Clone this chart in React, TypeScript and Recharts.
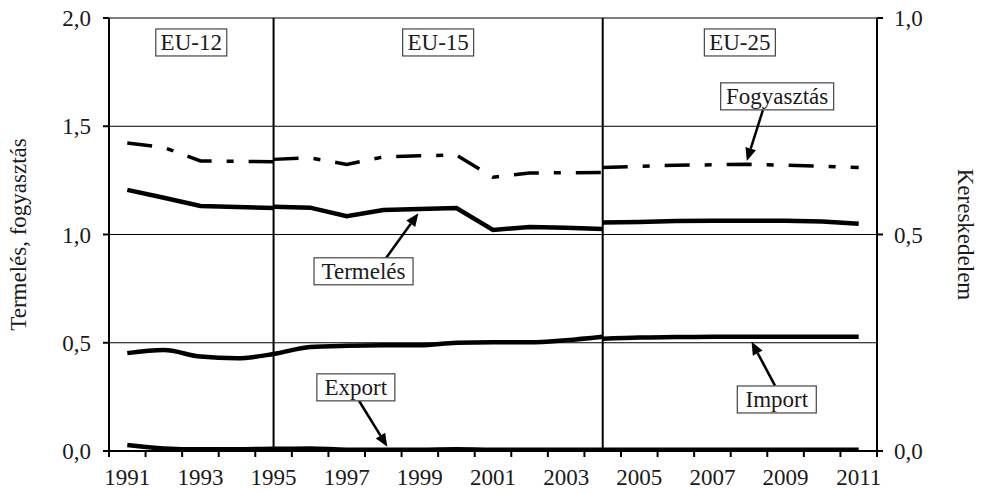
import React from 'react';
import { LineChart, Line, XAxis, YAxis, CartesianGrid, ReferenceLine, ReferenceDot } from 'recharts';

const years = [1991, 1992, 1993, 1994, 1995, 1996, 1997, 1998, 1999, 2000, 2001, 2002, 2003, 2004, 2005, 2006, 2007, 2008, 2009, 2010, 2011];

// Fogyasztás (left axis), three periods
const fogyasztasEU12 = [1.423, 1.402, 1.340, 1.338, 1.336, null, null, null, null, null, null, null, null, null, null, null, null, null, null, null, null];
const fogyasztasEU15 = [null, null, null, null, 1.347, 1.354, 1.324, 1.358, 1.364, 1.367, 1.265, 1.284, 1.285, 1.286, null, null, null, null, null, null, null];
const fogyasztasEU25 = [null, null, null, null, null, null, null, null, null, null, null, null, null, 1.309, 1.315, 1.320, 1.322, 1.324, 1.320, 1.315, 1.309];

// Termelés (left axis), three periods
const termelesEU12 = [1.206, 1.170, 1.132, 1.127, 1.122, null, null, null, null, null, null, null, null, null, null, null, null, null, null, null, null];
const termelesEU15 = [null, null, null, null, 1.128, 1.124, 1.085, 1.113, 1.118, 1.122, 1.021, 1.035, 1.031, 1.025, null, null, null, null, null, null, null];
const termelesEU25 = [null, null, null, null, null, null, null, null, null, null, null, null, null, 1.055, 1.058, 1.062, 1.064, 1.064, 1.063, 1.060, 1.050];

// Kereskedelem (right axis)
const importA = [0.226, 0.233, 0.218, 0.214, 0.224, 0.240, 0.243, 0.244, 0.244, 0.250, 0.251, 0.251, 0.256, 0.264, null, null, null, null, null, null, null];
const importB = [null, null, null, null, null, null, null, null, null, null, null, null, null, 0.259, 0.262, 0.263, 0.264, 0.264, 0.264, 0.264, 0.264];
const exportV = [0.014, 0.006, 0.004, 0.004, 0.005, 0.006, 0.003, 0.003, 0.003, 0.004, 0.003, 0.003, 0.003, 0.003, 0.003, 0.003, 0.003, 0.003, 0.003, 0.003, 0.003];

const periodBreaks = [1995, 2004];
const leftTicks = [0, 0.5, 1, 1.5, 2];
const rightTicks = [0, 0.5, 1];
const xBoundaries = [1990.5, 1991.5, 1992.5, 1993.5, 1994.5, 1995.5, 1996.5, 1997.5, 1998.5, 1999.5, 2000.5, 2001.5, 2002.5, 2003.5, 2004.5, 2005.5, 2006.5, 2007.5, 2008.5, 2009.5, 2010.5, 2011.5];

const boxes = [
  { text: 'EU-12', x: 1992.75, y: 1.887, w: 71 },
  { text: 'EU-15', x: 1999.5, y: 1.887, w: 71 },
  { text: 'EU-25', x: 2007.75, y: 1.887, w: 71 },
  { text: 'Fogyasztás', x: 2008.77, y: 1.638, w: 113 },
  { text: 'Termelés', x: 1997.46, y: 0.830, w: 99 },
  { text: 'Export', x: 1997.25, y: 0.294, w: 78 },
  { text: 'Import', x: 2008.76, y: 0.238, w: 79 },
];

const arrows = [
  { from: [2008.38, 1.575], to: [2007.94, 1.339] },
  { from: [1998.07, 0.890], to: [1998.96, 1.098] },
  { from: [1997.34, 0.231], to: [1998.11, 0.020] },
  { from: [2008.71, 0.302], to: [2008.07, 0.505] },
];

const data = years.map((year, i) => ({
  year,
  fog12: fogyasztasEU12[i],
  fog15: fogyasztasEU15[i],
  fog25: fogyasztasEU25[i],
  ter12: termelesEU12[i],
  ter15: termelesEU15[i],
  ter25: termelesEU25[i],
  impA: importA[i],
  impB: importB[i],
  exp: exportV[i],
}));

const FONT = "'Liberation Serif', 'Times New Roman', serif";
const TEXT = '#1a1a1a';
const FS = 23;
const W = 982;
const H = 492;
const LEFT_W = 109;
const RIGHT_W = 105;
const TOP = 18;
const X_H = 41;
const BAND = (W - LEFT_W - RIGHT_W) / years.length;

const fmt = (v: number) => v.toFixed(1).replace('.', ',');

const XTick = (props: any) => {
  const { x, y, payload } = props;
  const yr = Math.round(payload.value + 0.5);
  if (yr > 2011 || yr % 2 === 0) return <g />;
  return (
    <text x={x + BAND / 2} y={y + 26} textAnchor="middle" fontSize={FS} fontFamily={FONT} fill={TEXT}>
      {yr}
    </text>
  );
};

const Box = (w: number, text: string) => (p: any) => {
  const h = 27;
  return (
    <g>
      <rect x={p.cx - w / 2} y={p.cy - h / 2} width={w} height={h} fill="#fff" stroke="#444" strokeWidth={1.2} />
      <text x={p.cx} y={p.cy + 8} textAnchor="middle" fontSize={FS} fontFamily={FONT} fill={TEXT}>
        {text}
      </text>
    </g>
  );
};

const Arrow = (p: any) => {
  const { x1, y1, x2, y2 } = p;
  const dx = x2 - x1;
  const dy = y2 - y1;
  const len = Math.sqrt(dx * dx + dy * dy) || 1;
  const ux = dx / len;
  const uy = dy / len;
  const hl = 13;
  const hw = 5.5;
  const bx = x2 - ux * hl;
  const by = y2 - uy * hl;
  const pts = `${x2},${y2} ${bx - uy * hw},${by + ux * hw} ${bx + uy * hw},${by - ux * hw}`;
  return (
    <g>
      <line x1={x1} y1={y1} x2={bx} y2={by} stroke="#000" strokeWidth={2.5} />
      <polygon points={pts} fill="#000" />
    </g>
  );
};

export default function App() {
  return (
    <div style={{ position: 'absolute', left: 0, top: 0, background: '#fff' }}>
      <LineChart width={W} height={H} data={data} margin={{ top: TOP, right: 0, bottom: 0, left: 0 }}>
        <CartesianGrid vertical={false} stroke="#000" strokeWidth={1} />
        <XAxis
          dataKey="year"
          type="number"
          domain={[1990.5, 2011.5]}
          ticks={xBoundaries}
          interval={0}
          tick={<XTick />}
          tickSize={6}
          tickLine={{ stroke: '#000', strokeWidth: 2 }}
          axisLine={{ stroke: '#000', strokeWidth: 2 }}
          height={X_H}
          allowDecimals
        />
        <YAxis
          domain={[0, 2]}
          ticks={leftTicks}
          tickFormatter={fmt}
          width={LEFT_W}
          tickSize={6}
          tickMargin={12}
          interval={0}
          tick={{ fontSize: FS, fontFamily: FONT, fill: TEXT }}
          tickLine={{ stroke: '#000', strokeWidth: 2 }}
          axisLine={{ stroke: '#000', strokeWidth: 2 }}
          label={{
            content: (lp: any) => {
              const vb = lp.viewBox || { y: TOP, height: H - TOP - X_H };
              const cy = vb.y + vb.height / 2;
              return (
                <text x={26} y={cy} transform={`rotate(-90 26 ${cy})`} textAnchor="middle" fontSize={FS} fontFamily={FONT} fill={TEXT}>
                  Termelés, fogyasztás
                </text>
              );
            },
          }}
        />
        <YAxis
          yAxisId="right"
          orientation="right"
          domain={[0, 1]}
          ticks={rightTicks}
          tickFormatter={fmt}
          width={RIGHT_W}
          tickSize={6}
          tickMargin={11}
          interval={0}
          tick={{ fontSize: FS, fontFamily: FONT, fill: TEXT }}
          tickLine={{ stroke: '#000', strokeWidth: 2 }}
          axisLine={{ stroke: '#000', strokeWidth: 2 }}
          label={{
            content: (lp: any) => {
              const vb = lp.viewBox || { y: TOP, height: H - TOP - X_H };
              const cy = vb.y + vb.height / 2;
              return (
                <text x={958} y={cy} transform={`rotate(90 958 ${cy})`} textAnchor="middle" fontSize={FS} fontFamily={FONT} fill={TEXT}>
                  Kereskedelem
                </text>
              );
            },
          }}
        />
        {periodBreaks.map((b) => (
          <ReferenceLine key={b} x={b} stroke="#000" strokeWidth={2} />
        ))}
        <Line dataKey="fog12" type="linear" stroke="#000" strokeWidth={3.5} strokeDasharray="25 15 7 15" dot={false} isAnimationActive={false} />
        <Line dataKey="fog15" type="linear" stroke="#000" strokeWidth={3.5} strokeDasharray="25 15 7 15" dot={false} isAnimationActive={false} />
        <Line dataKey="fog25" type="linear" stroke="#000" strokeWidth={3.5} strokeDasharray="25 15 7 15" dot={false} isAnimationActive={false} />
        <Line dataKey="ter12" type="linear" stroke="#000" strokeWidth={4.5} dot={false} isAnimationActive={false} />
        <Line dataKey="ter15" type="linear" stroke="#000" strokeWidth={4.5} dot={false} isAnimationActive={false} />
        <Line dataKey="ter25" type="linear" stroke="#000" strokeWidth={4.5} dot={false} isAnimationActive={false} />
        <Line yAxisId="right" dataKey="impA" type="monotone" stroke="#000" strokeWidth={4.5} dot={false} isAnimationActive={false} />
        <Line yAxisId="right" dataKey="impB" type="monotone" stroke="#000" strokeWidth={4.5} dot={false} isAnimationActive={false} />
        <Line yAxisId="right" dataKey="exp" type="monotone" stroke="#000" strokeWidth={4.5} dot={false} isAnimationActive={false} />
        {arrows.map((a, i) => (
          <ReferenceLine
            key={'a' + i}
            segment={[{ x: a.from[0], y: a.from[1] }, { x: a.to[0], y: a.to[1] }]}
            shape={Arrow}
            stroke="#000"
          />
        ))}
        {boxes.map((b) => (
          <ReferenceDot key={b.text} x={b.x} y={b.y} r={1} shape={Box(b.w, b.text)} />
        ))}
      </LineChart>
    </div>
  );
}
